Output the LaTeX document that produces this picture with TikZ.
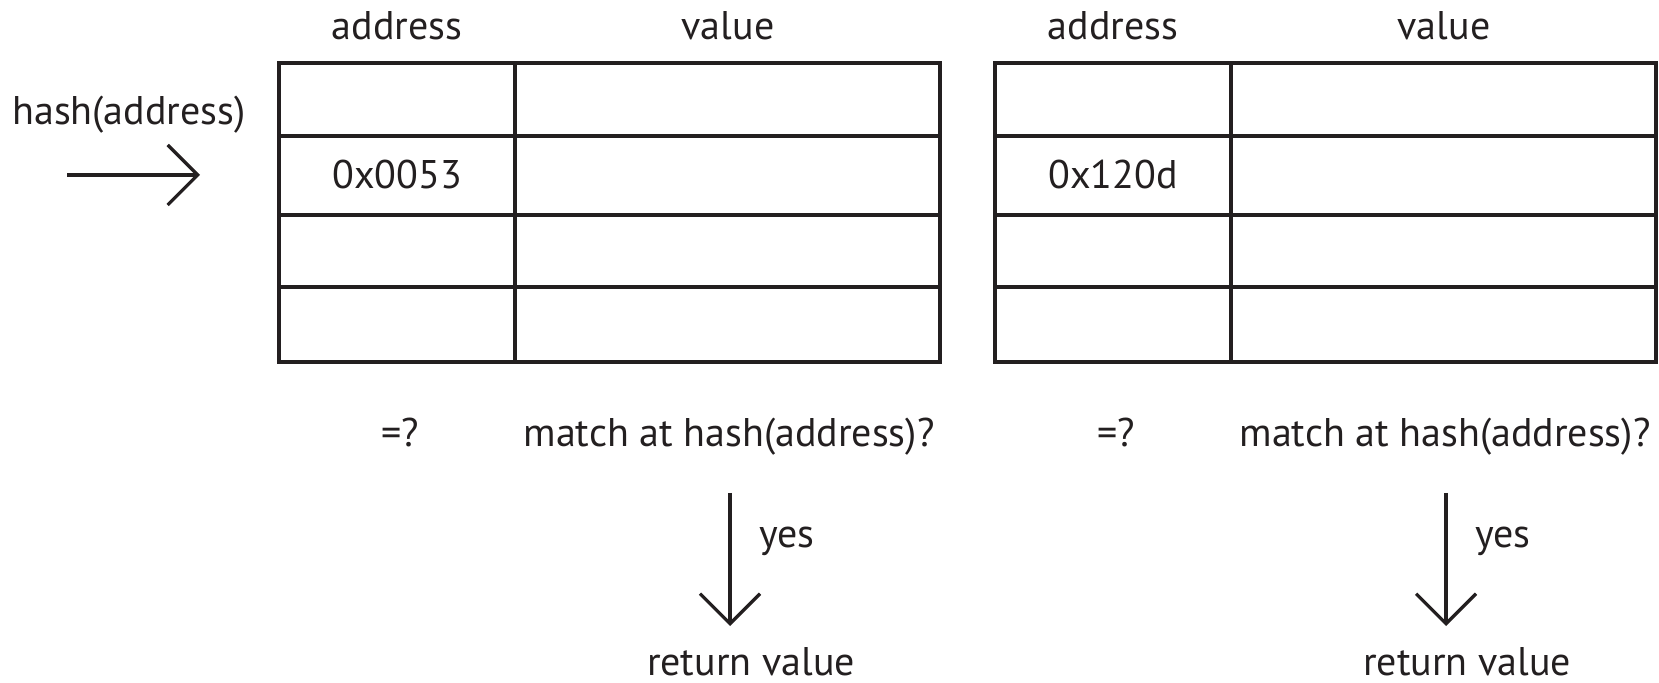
\documentclass[tikz,border=0pt]{standalone}
\usepackage{fontspec}
\setmainfont{PT Sans}
\definecolor{ink}{RGB}{35,31,32}
\usetikzlibrary{arrows.meta,positioning}

\begin{document}
\begin{tikzpicture}[x=0.5pt,y=-0.5pt,
        every node/.style={font=\fontsize{20}{24}\selectfont,text=ink,inner sep=0pt,anchor=base},
        cell/.style={ink,line width=1.7pt},
        pointer/.style={ink,line width=1.6pt,-{Straight Barb[length=15pt,width=30pt]}}]
    \useasboundingbox (0,0) rectangle (1659,683);
    %
    \node (hash) at (129,125) {hash(address)};
    \coordinate (in) at (67,175);
    \coordinate (slot) at (200,175);
    \draw[pointer] (in) -- (slot);
    %
    \foreach \t/\dx/\key in {L/0/0x0053, R/716/0x120d}{
        \begin{scope}[shift={(\dx,0)}]
            \draw[cell] (279,63) rectangle (940,362);
            \draw[cell] (515,63) -- (515,362);
            \foreach \y in {136,215,287}
                \draw[cell] (279,\y) -- (940,\y);
            \node (addr\t) at (397,40) {address};
            \node (val\t) at (728,40) {value};
            \node (key\t) at (397,189) {\key};
            %
            \node (eq\t) at (400,447) {=?};
            \node (match\t) at (729,447) {match at hash(address)?};
            \coordinate (top\t) at (730,493);
            \coordinate (bot\t) at (730,626);
            \draw[pointer] (top\t) -- (bot\t);
            \node (yes\t) at (787,548) {yes};
            \node (ret\t) at (751,675) {return value};
        \end{scope}
    }
\end{tikzpicture}
\end{document}
